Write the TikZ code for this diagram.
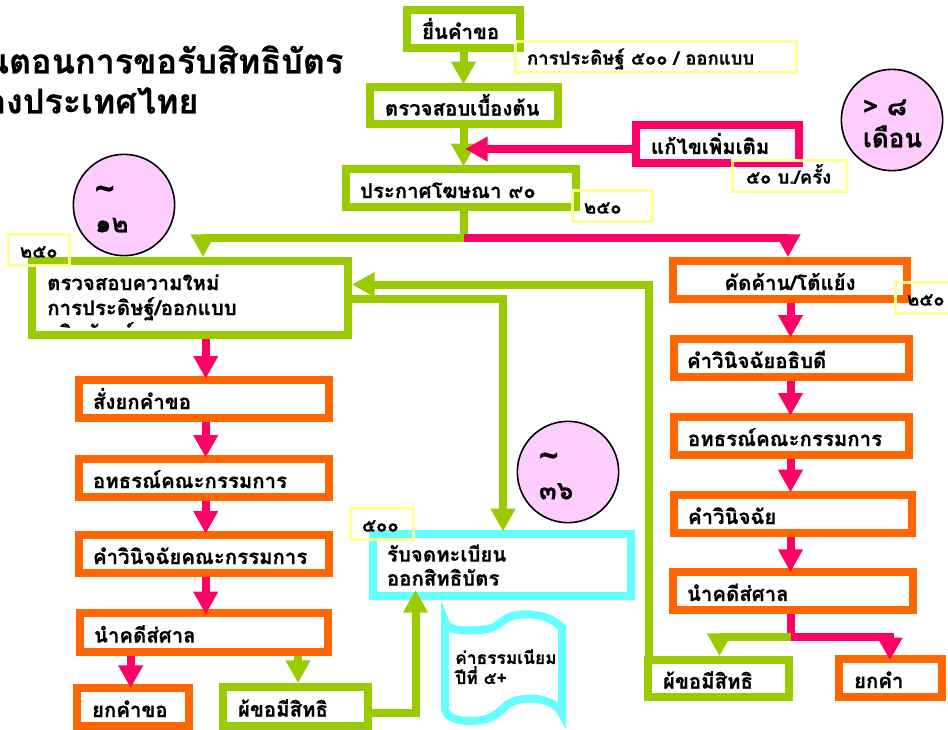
\documentclass[tikz,border=0pt]{standalone}
\usepackage{fontspec}
\usetikzlibrary{arrows.meta}
\newfontfamily\thaifont[Script=Thai,BoldFeatures={FakeBold=0.5}]{Loma}
\definecolor{gr}{HTML}{99CC00}
\definecolor{pk}{HTML}{FF0066}
\definecolor{og}{HTML}{FF6600}
\definecolor{cy}{HTML}{66FFFF}
\definecolor{yl}{HTML}{FFFF99}
\definecolor{lil}{HTML}{FFCCFF}
\def\bw{8}
\newcommand{\bx}[8]{%
  \pgfmathsetmacro\bcx{(#3+#5)/2}%
  \pgfmathsetmacro\bcy{(#4+#6)/2}%
  \pgfmathsetmacro\bmw{(#5-#3-\bw)*0.75}%
  \pgfmathsetmacro\bmh{(#6-#4-\bw)*0.75}%
  \pgfmathsetmacro\btw{(#5-#3-2*(#7-#3))*0.75}%
  \pgfmathsetmacro\bis{(#7-#3-\bw/2)*0.75}%
  \node[#1,line width=\bw*0.75pt,minimum width=\bmw pt,minimum height=\bmh pt,text width=\btw pt,inner xsep=\bis pt] (#2) at (\bcx,\bcy) {#8};}
\newcommand{\tildeglyph}{{\fontsize{25}{24}\selectfont\char"7E}}
\tikzset{
  x=0.75pt,y=-0.75pt,
  every node/.style={font=\thaifont\bfseries\fontsize{15.3}{18}\selectfont,inner ysep=0pt,align=left,text=black},
  one/.style={text height=16pt,text depth=1pt},
  grb/.style={draw=gr,one},
  ogb/.style={draw=og,one},
  pkb/.style={draw=pk,one},
  cyb/.style={draw=cy},
  ylb/.style={draw=yl,text height=12.5pt,text depth=1pt,font=\thaifont\bfseries\fontsize{13.9}{14}\selectfont},
  badge/.style={circle,draw=black,line width=1.2pt,fill=lil,minimum size=76pt,inner sep=0pt,text width=43.5pt,font=\thaifont\bfseries\fontsize{19.5}{24}\selectfont},
  arr/.style={line width=6pt,-{Triangle[length=17pt,width=17.6pt]}},
  ga/.style={arr,draw=gr},
  pa/.style={arr,draw=pk},
  gl/.style={line width=6pt,draw=gr},
  pl/.style={line width=6pt,draw=pk},
}
\begin{document}
\begin{tikzpicture}
\useasboundingbox (0,0) rectangle (948,729);
\begin{scope}
\clip (0,0) rectangle (948,729);
% title
\node[anchor=north west,inner sep=0pt,font=\thaifont\bfseries\fontsize{25.6}{30}\selectfont] (title) at (-38,37) {ขั้นตอนการขอรับสิทธิบัตร\\ของประเทศไทย};
% badges
\node[badge] (c1) at (124,205) {\tildeglyph\\๑๒\par\vspace{-6pt}};
\node[badge] (c2) at (568,472) {\tildeglyph\\๓๖\par\vspace{-6pt}};
\node[badge] (c3) at (892,120) {> ๘\\เดือน\par\vspace{-5pt}};
% boxes
\bx{grb}{b1}{403}{6}{524}{52}{422}{ยื่นคำขอ}
\bx{grb}{b2}{366}{83}{562}{128}{385}{ตรวจสอบเบื้องต้น}
\bx{grb}{b3}{342}{165}{580}{211}{360}{ประกาศโฆษณา ๙๐}
\bx{pkb}{edit}{632}{121}{803}{167}{651}{แก้ไขเพิ่มเติม}
\bx{grb}{big}{28}{257}{352}{339}{47}{}
\begin{scope}
\clip (36,265) rectangle (344,327.5);
\node[anchor=north west,inner sep=0pt,font=\thaifont\bfseries\fontsize{15.3}{18.75}\selectfont] (bigtxt) at (47,274) {ตรวจสอบความใหม่\\การประดิษฐ์/ออกแบบ\\ผลิตภัณฑ์};
\end{scope}
\bx{ogb}{s1}{75}{376}{333}{422}{93}{สั่งยกคำขอ}
\bx{ogb}{s2}{75}{455}{333}{501}{93}{อทธรณ์คณะกรรมการ}
\bx{ogb}{s3}{75}{531}{333}{577}{93}{คำวินิจฉัยคณะกรรมการ}
\bx{ogb}{s4}{76}{609}{332}{656}{94}{นำคดีส่ศาล}
\bx{ogb}{s5}{73}{684}{193}{730}{92}{ยกคำขอ}
\bx{grb}{s6}{219}{683}{372}{730}{238}{ผ้ขอมีสิทธิ}
\bx{cyb}{reg}{369}{530}{635}{600}{387}{รับจดทะเบียน\\ออกสิทธิบัตร}
\bx{ogb,align=center}{r1}{669}{257}{911}{303}{690}{\centering คัดค้าน/โต้แย้ง}
\bx{ogb}{r2}{670}{335}{913}{381}{687}{คำวินิจฉัยอธิบดี}
\bx{ogb}{r3}{670}{413}{913}{459}{688}{อทธรณ์คณะกรรมการ}
\bx{ogb}{r4}{670}{491}{916}{537}{688}{คำวินิจฉัย}
\bx{ogb}{r5}{669}{568}{917}{614}{687}{นำคดีส่ศาล}
\bx{grb}{r6}{644}{656}{793}{701}{663}{ผ้ขอมีสิทธิ}
\bx{ogb}{r7}{835}{655}{946}{701}{854}{ยกคำ}
% document shape
\draw[draw=cy,line width=6pt,miter limit=12,line join=miter]
  (445,621) .. controls (447,631) and (462,631) .. (478,630)
  .. controls (498,629) and (500,622) .. (507,618)
  .. controls (518,612) and (548,612) .. (562,628)
  -- (562,714)
  .. controls (555,698) and (525,694) .. (508,704)
  .. controls (498,712) and (494,721) .. (470,721)
  .. controls (455,721) and (445,716) .. (445,708) -- cycle;
\node[anchor=north west,inner sep=0pt,font=\thaifont\bfseries\fontsize{13}{15}\selectfont] (doc) at (455,649) {ค่าธรรมเนียม\\ปีที่ ๕+};
% connectors
\coordinate (xA) at (463.5,0);
\coordinate (xL) at (205.7,0);
\coordinate (xR) at (790.5,0);
\coordinate (split) at (463.5,238);
\coordinate (gc) at (203,238);
\coordinate (pc) at (788,238);
\coordinate (yu) at (0,284.5);
\coordinate (yd) at (0,298.5);
\coordinate (xu) at (648.5,0);
\coordinate (xd) at (503,0);
\coordinate (rs) at (791,637);
\coordinate (et) at (465,149);
\coordinate (ys) at (0,712.5);
\draw[ga,shorten >=-1pt] (b1.south -| xA) -- (b2.north -| xA);
\draw[ga,shorten >=-1pt] (b2.south -| xA) -- (b3.north -| xA);
\draw[pa] (edit.west |- et) -- (et);
\draw[gl] (b3.south -| xA) -- (split);
\draw[ga] (split) -- (gc) -- (big.north -| gc);
\draw[pa] (split) -- (pc) -- (r1.north -| pc);
\draw[ga] (r6.north -| xu) -- (yu -| xu) -- (big.east |- yu);
\draw[ga,shorten >=-1pt] (big.east |- yd) -- (yd -| xd) -- (reg.north -| xd);
\draw[pa,shorten >=-2pt] (big.south -| xL) -- (s1.north -| xL);
\draw[pa,shorten >=-2pt] (s1.south -| xL) -- (s2.north -| xL);
\draw[pa,shorten >=-2pt] (s2.south -| xL) -- (s3.north -| xL);
\draw[pa,shorten >=-4pt] (s3.south -| xL) -- (s4.north -| xL);
\coordinate (xy) at (130.7,0);
\coordinate (xz) at (298,0);
\coordinate (xw) at (415.5,0);
\draw[pa,shorten >=-3pt] (s4.south -| xy) -- (s5.north -| xy);
\draw[ga] (s4.south -| xz) -- (s6.north -| xz);
\draw[ga,shorten >=-7.5pt] (s6.east |- ys) -- (xw |- ys) -- (reg.south -| xw);
\draw[pa,shorten >=-2pt] (r1.south -| xR) -- (r2.north -| xR);
\draw[pa,shorten >=-2pt] (r2.south -| xR) -- (r3.north -| xR);
\draw[pa,shorten >=-1pt] (r3.south -| xR) -- (r4.north -| xR);
\draw[pa,shorten >=-3pt] (r4.south -| xR) -- (r5.north -| xR);
\draw[pl] (r5.south -| rs) -- (rs);
\coordinate (gd) at (719.5,637);
\coordinate (pd) at (890,637);
\draw[ga] (rs) -- (gd) -- (r6.north -| gd);
\draw[pa,shorten >=-4pt] (rs) -- (pd) -- (r7.north -| pd);
% yellow notes
\begin{scope}
\def\bw{3}
\bx{ylb}{y1}{514}{40}{798}{74}{527}{การประดิษฐ์ ๕๐๐ / ออกแบบ}
\bx{ylb}{y2}{731}{159}{848}{193}{746}{๕๐ บ./ครั้ง}
\bx{ylb}{y3}{571}{189}{654}{223}{584}{๒๕๐}
\bx{ylb}{y4}{7}{233}{71}{267}{20}{๒๕๐}
\bx{ylb}{y5}{894}{281}{990}{315}{907}{๒๕๐}
\bx{ylb}{y6}{349}{507}{415}{541}{362}{๕๐๐}
\end{scope}
\end{scope}
\end{tikzpicture}
\end{document}
